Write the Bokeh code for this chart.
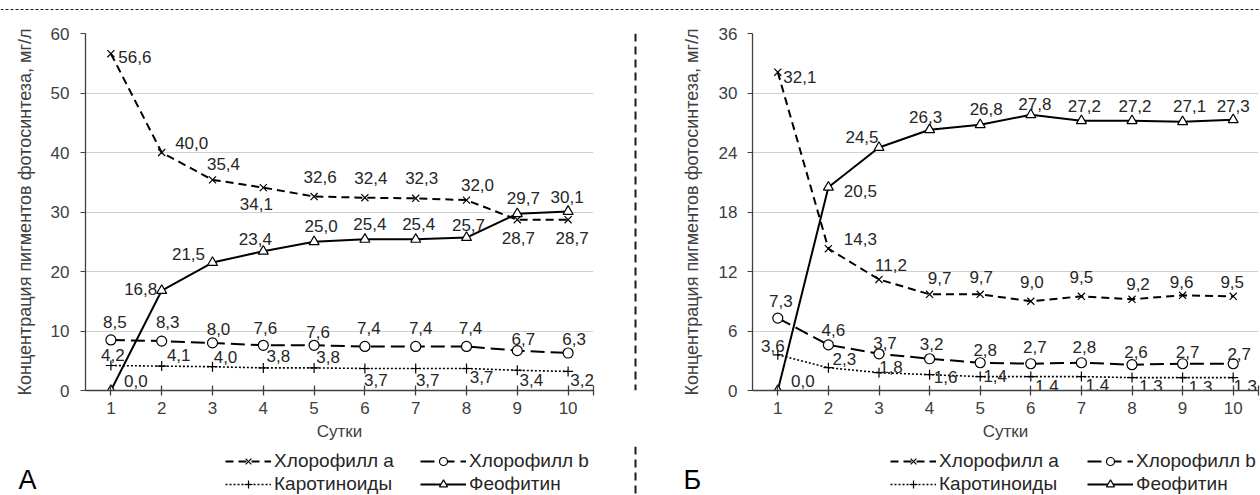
from bokeh.plotting import figure
from bokeh.layouts import row, column
from bokeh.models import (ColumnDataSource, Legend, LegendItem, Label, Span,
                          FixedTicker, Range1d)
from bokeh.core.properties import value
from bokeh.embed import file_html
from bokeh.resources import INLINE

# ---------------- data ----------------
DAYS = [1, 2, 3, 4, 5, 6, 7, 8, 9, 10]
DAY_LABELS = ["1", "2", "3", "4", "5", "6", "7", "8", "9", "10"]

SERIES_NAMES = ["Хлорофилл a", "Хлорофилл b", "Каротиноиды", "Феофитин"]

# Panel A
A_CHL_A = [56.6, 40.0, 35.4, 34.1, 32.6, 32.4, 32.3, 32.0, 28.7, 28.7]
A_CHL_B = [8.5, 8.3, 8.0, 7.6, 7.6, 7.4, 7.4, 7.4, 6.7, 6.3]
A_CAROT = [4.2, 4.1, 4.0, 3.8, 3.8, 3.7, 3.7, 3.7, 3.4, 3.2]
A_PHEO = [0.0, 16.8, 21.5, 23.4, 25.0, 25.4, 25.4, 25.7, 29.7, 30.1]

# Panel Б
B_CHL_A = [32.1, 14.3, 11.2, 9.7, 9.7, 9.0, 9.5, 9.2, 9.6, 9.5]
B_CHL_B = [7.3, 4.6, 3.7, 3.2, 2.8, 2.7, 2.8, 2.6, 2.7, 2.7]
B_CAROT = [3.6, 2.3, 1.8, 1.6, 1.4, 1.4, 1.4, 1.3, 1.3, 1.3]
B_PHEO = [0.0, 20.5, 24.5, 26.3, 26.8, 27.8, 27.2, 27.2, 27.1, 27.3]

PANEL_LETTERS = ["А", "Б"]
Y_TITLE = "Концентрация пигментов фотосинтеза, мг/л"
X_TITLE = "Сутки"

# ---------------- label placement (style, pixels, y down) ----------------
A_OFF = {
    "chl_a": [(24, 3), (30, -10), (11, -16), (-7, 16), (6, -20), (6, -20), (6, -20), (11, -15), (1, 18), (4, 18)],
    "chl_b": [(4, -18), (6, -19), (6, -14), (2, -17), (4, -13), (4, -18), (5, -18), (4, -18), (6, -12), (6, -14)],
    "carot": [(2, -11), (17, -11), (13, -10), (15, -12), (14, -11), (11, 12), (12, 12), (15, 9), (14, 10), (14, 9)],
    "pheo": [(25, -10), (-21, -2), (-24, -9), (-8, -12), (7, -16), (5, -15), (3, -15), (2, -13), (6, -16), (-1, -14)],
}
B_OFF = {
    "chl_a": [(22, 5), (32, -10), (12, -14), (10, -16), (1, -17), (1, -19), (0, -19), (6, -15), (-1, -13), (-1, -14)],
    "chl_b": [(3, -17), (5, -15), (6, -11), (2, -15), (5, -13), (4, -17), (3, -16), (4, -13), (5, -12), (6, -10)],
    "carot": [(-5, -9), (16, -9), (12, -6), (16, 2), (15, -1), (16, 9), (16, 8), (19, 8), (18, 9), (12, 8)],
    "pheo": [(25, -10), (32, 4), (-17, -11), (-4, -13), (6, -16), (4, -11), (3, -15), (3, -15), (7, -16), (0, -14)],
}

FONT = "Liberation Sans"
INK = "#000000"
TXT = "#262626"
TICK_TXT = "#404040"
AXC = "#404040"

STYLES = {
    "chl_a": dict(dash="8 5", width=2.0, marker="x", size=10, fill="white"),
    "chl_b": dict(dash="14 6", width=2.0, marker="circle", size=10, fill="white"),
    "carot": dict(dash="2 2", width=1.6, marker="cross", size=10, fill="white"),
    "pheo": dict(dash="solid", width=2.0, marker="triangle", size=10, fill="white"),
}
KEYS = ["chl_a", "chl_b", "carot", "pheo"]


def fmt(v):
    return f"{v:.1f}".replace(".", ",")


def make_panel(width, height, bl, br, bt, bb, y_max, y_step, data, offsets,
               tick_standoff, title_standoff):
    p = figure(width=width, height=height, output_backend="svg", toolbar_location=None,
               x_range=Range1d(0.5, 10.5), y_range=Range1d(0, y_max),
               min_border_left=bl, min_border_right=br, min_border_top=bt,
               min_border_bottom=bb)
    p.outline_line_color = None
    p.background_fill_color = "white"
    p.border_fill_color = "white"

    xa = p.xaxis[0]
    xa.ticker = FixedTicker(ticks=DAYS + [10.5])
    ov = {d: l for d, l in zip(DAYS, DAY_LABELS)}
    ov[10.5] = ""
    xa.major_label_overrides = ov
    xa.major_tick_in = 5
    xa.major_tick_out = 5
    xa.minor_tick_line_color = None
    xa.axis_line_color = AXC
    xa.axis_line_width = 1.3
    xa.major_tick_line_color = AXC
    xa.major_tick_line_width = 1.3
    xa.major_label_standoff = 6
    xa.major_label_text_font = FONT
    xa.major_label_text_font_size = "17px"
    xa.major_label_text_color = TICK_TXT
    xa.axis_label = X_TITLE
    xa.axis_label_text_font = FONT
    xa.axis_label_text_font_size = "17px"
    xa.axis_label_text_font_style = "normal"
    xa.axis_label_text_color = TICK_TXT
    xa.axis_label_standoff = 5

    ya = p.yaxis[0]
    ya.ticker = FixedTicker(ticks=list(range(0, y_max + 1, y_step)))
    ya.major_tick_in = 0
    ya.major_tick_out = 5
    ya.minor_tick_line_color = None
    ya.axis_line_color = AXC
    ya.axis_line_width = 1.3
    ya.major_tick_line_color = AXC
    ya.major_label_standoff = tick_standoff
    ya.major_label_text_font = FONT
    ya.major_label_text_font_size = "17px"
    ya.major_label_text_color = TICK_TXT
    ya.axis_label = Y_TITLE
    ya.axis_label_text_font = FONT
    ya.axis_label_text_font_size = "18px"
    ya.axis_label_text_font_style = "normal"
    ya.axis_label_text_color = TICK_TXT
    ya.axis_label_standoff = title_standoff

    p.xgrid.grid_line_color = None
    p.ygrid.ticker = FixedTicker(ticks=list(range(y_step, y_max + 1, y_step)))
    p.ygrid.grid_line_color = "#d0d0d0"
    p.ygrid.grid_line_width = 1.2

    for key in ["carot", "chl_b", "pheo", "chl_a"]:
        vals = data[key]
        st = STYLES[key]
        src = ColumnDataSource(dict(
            x=DAYS, y=vals, lab=[fmt(v) for v in vals],
            dx=[o[0] for o in offsets[key]], dy=[o[1] for o in offsets[key]]))
        p.line("x", "y", source=src, line_color=INK, line_width=st["width"],
               line_dash=st["dash"])
        p.scatter("x", "y", source=src, marker=st["marker"], size=st["size"],
                  line_color=INK, line_width=1.2, fill_color=st["fill"])
        p.text("x", "y", text="lab", source=src, x_offset="dx", y_offset="dy",
               text_align="center", text_baseline="middle",
               text_font=value(FONT), text_font_size="17px", text_color=TXT)
    return p


LEFT_W, SEP_W, RIGHT_W = 632, 6, 622
TOTAL_W = LEFT_W + SEP_W + RIGHT_W
TOP_H = 12
PLOT_H = 434
LEG_H = 49

left = make_panel(
    LEFT_W, PLOT_H, bl=85, br=39, bt=19, bb=56, y_max=60, y_step=10,
    data={"chl_a": A_CHL_A, "chl_b": A_CHL_B, "carot": A_CAROT, "pheo": A_PHEO},
    offsets=A_OFF, tick_standoff=11, title_standoff=13)

right = make_panel(
    RIGHT_W, PLOT_H, bl=114, br=2, bt=21, bb=56, y_max=36, y_step=6,
    data={"chl_a": B_CHL_A, "chl_b": B_CHL_B, "carot": B_CAROT, "pheo": B_PHEO},
    offsets=B_OFF, tick_standoff=10, title_standoff=14)

# separator (vertical dashed rule), upper part
sep = figure(width=SEP_W, height=PLOT_H, output_backend="svg",
             toolbar_location=None, x_range=Range1d(0, 1), y_range=Range1d(0, 1),
             x_axis_type=None, y_axis_type=None,
             min_border_left=0, min_border_right=0, min_border_top=13,
             min_border_bottom=0)
sep.outline_line_color = None
sep.grid.visible = False
sep.add_layout(Span(location=0.5, dimension="height", line_color="#1a1a1a",
                    line_width=2, line_dash="8 5"))

# top dashed rule
top = figure(width=TOTAL_W, height=TOP_H, output_backend="svg",
             toolbar_location=None, x_range=Range1d(0, 1), y_range=Range1d(0, 1),
             x_axis_type=None, y_axis_type=None,
             min_border_left=0, min_border_right=0, min_border_top=0,
             min_border_bottom=0)
top.outline_line_color = None
top.grid.visible = False
top.add_layout(Span(location=0.25, dimension="width", line_color="#1a1a1a",
                    line_width=1, line_dash="3 2"))

# legend strip (full width): legend samples use the real series, drawn on an
# off-screen range so only the legend glyphs are visible
leg = figure(width=TOTAL_W, height=LEG_H, output_backend="svg",
             toolbar_location=None, x_range=Range1d(0, TOTAL_W),
             y_range=Range1d(0, LEG_H), x_axis_type=None, y_axis_type=None,
             min_border_left=0, min_border_right=0, min_border_top=0,
             min_border_bottom=0)
leg.outline_line_color = None
leg.grid.visible = False
leg.extra_y_ranges = {"off": Range1d(1000, 2000)}
leg.add_layout(Span(location=635, dimension="height", line_color="#1a1a1a",
                    line_width=2, line_dash="8 5"))

panel_data = [
    {"chl_a": A_CHL_A, "chl_b": A_CHL_B, "carot": A_CAROT, "pheo": A_PHEO},
    {"chl_a": B_CHL_A, "chl_b": B_CHL_B, "carot": B_CAROT, "pheo": B_PHEO},
]
legend_pos = [
    [(225, 23), (420, 23), (225, 0), (420, 0)],
    [(890, 23), (1087, 23), (890, 0), (1087, 0)],
]
letter_x = [18, 683]

for pdata, positions, letter, lx0 in zip(panel_data, legend_pos, PANEL_LETTERS, letter_x):
    for key, name, (lx, ly) in zip(KEYS, SERIES_NAMES, positions):
        st = STYLES[key]
        src = ColumnDataSource(dict(x=DAYS, y=pdata[key]))
        lr = leg.line("x", "y", source=src, y_range_name="off", line_color=INK,
                      line_width=st["width"], line_dash=st["dash"])
        sr = leg.scatter("x", "y", source=src, y_range_name="off",
                         marker=st["marker"], size=st["size"] - 2,
                         line_color=INK, line_width=1.2, fill_color=st["fill"])
        lg = Legend(items=[LegendItem(label=name, renderers=[lr, sr])],
                    location=(lx, ly), orientation="horizontal",
                    glyph_width=46, glyph_height=20, label_height=20,
                    label_standoff=3, padding=0, margin=0, spacing=0,
                    border_line_color=None, background_fill_alpha=0,
                    label_text_font=FONT, label_text_font_size="19px",
                    label_text_color=TXT)
        leg.add_layout(lg)
    leg.add_layout(Label(x=lx0, y=1, x_units="screen", y_units="screen",
                         text=letter, text_font=FONT, text_font_size="27px",
                         text_color=INK, text_baseline="bottom",
                         text_align="left"))

layout = column(top, row(left, sep, right, spacing=0), leg, spacing=0)

open("out.html", "w").write(file_html(layout, INLINE))
